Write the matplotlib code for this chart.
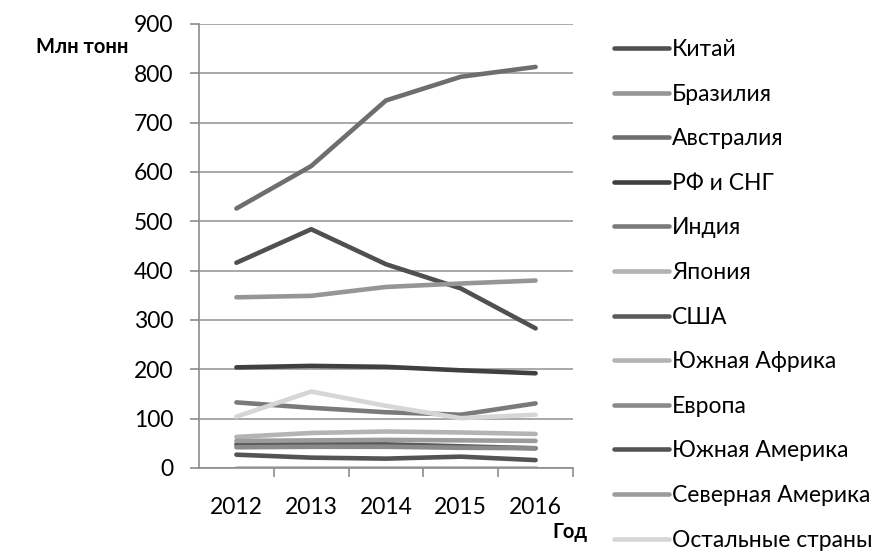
import matplotlib
matplotlib.use("Agg")
import matplotlib.pyplot as plt
from matplotlib.ticker import FixedLocator

years = ["2012", "2013", "2014", "2015", "2016"]
series_names = ["Китай", "Бразилия", "Австралия", "РФ и СНГ", "Индия", "Япония",
                "США", "Южная Африка", "Европа", "Южная Америка",
                "Северная Америка", "Остальные страны"]
china = [416, 484, 413, 364, 283]
brazil = [346, 349, 367, 374, 380]
australia = [526, 612, 745, 793, 813]
rf_cis = [204, 207, 205, 198, 192]
india = [133, 122, 113, 108, 131]
japan = [0, 0, 0, 0, 0]
usa = [48, 49, 48, 44, 40]
south_africa = [63, 71, 74, 72, 69]
europe = [42, 43, 43, 41, 40]
south_america = [27, 21, 19, 23, 16]
north_america = [55, 56, 57, 56, 55]
others = [104, 155, 126, 101, 108]
values = [china, brazil, australia, rf_cis, india, japan, usa, south_africa,
          europe, south_america, north_america, others]
colors = ["#505050", "#969696", "#6e6e6e", "#404040", "#7a7a7a", "#b2b2b2",
          "#5a5a5a", "#b4b4b4", "#8a8a8a", "#545454", "#9c9c9c", "#d6d6d6"]
y_ticks = [0, 100, 200, 300, 400, 500, 600, 700, 800, 900]

plt.rcParams['font.family'] = ['Lato', 'DejaVu Sans']
fig = plt.figure(figsize=(8.89, 5.52), dpi=100)
ax = fig.add_axes([199/889, 1-468/552, (573-199)/889, (468-24)/552])

x = list(range(len(years)))
for name, vals, c in zip(series_names, values, colors):
    ax.plot(x, vals, color=c, lw=3.3, solid_capstyle='round',
            solid_joinstyle='round', label=name)

ax.set_xlim(-0.5, 4.5)
ax.set_ylim(0, 900)
ax.set_yticks(y_ticks)
ax.set_xticks(x)
ax.set_xticklabels(years)
ax.xaxis.set_minor_locator(FixedLocator([0.5, 1.5, 2.5, 3.5, 4.5]))
ax.tick_params(axis='x', which='major', length=0, pad=21, labelsize=16.5)
ax.tick_params(axis='x', which='minor', length=6.5, width=1.2, color='#8c8c8c', direction='out')
ax.tick_params(axis='y', length=6.5, width=1.2, color='#8c8c8c', direction='out', pad=12, labelsize=16.5)
ax.grid(axis='y', color='#9a9a9a', lw=1.2)
ax.set_axisbelow(True)
for s in ['top', 'right']:
    ax.spines[s].set_visible(False)
for s in ['left', 'bottom']:
    ax.spines[s].set_color('#8c8c8c')
    ax.spines[s].set_linewidth(1.2)

fig.text(36/889, 1-47/552, "Млн тонн", fontsize=14.5, fontweight='bold', va='center', ha='left')
fig.text(552/889, 1-532/552, "Год", fontsize=14.5, fontweight='bold', va='center', ha='left')

leg = ax.legend(loc='upper left', bbox_to_anchor=(614/889, 1-39/552),
                bbox_transform=fig.transFigure, frameon=False, fontsize=16.5,
                handlelength=2.4, handletextpad=0.12, labelspacing=1.03,
                borderaxespad=0, borderpad=0)

fig.savefig("out.png", dpi=100)
